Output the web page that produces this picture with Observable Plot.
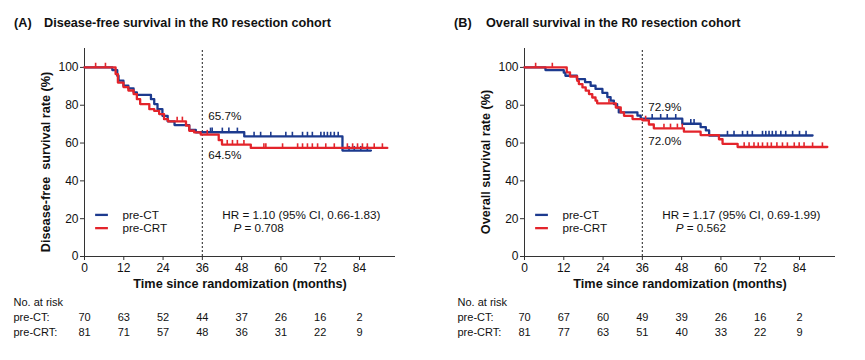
<!DOCTYPE html>
<html><head><meta charset="utf-8">
<script src="https://cdn.jsdelivr.net/npm/d3@7"></script>
<script src="https://cdn.jsdelivr.net/npm/@observablehq/plot@0.6"></script>
<style>
body{margin:0;background:#fff;font-family:"Liberation Sans",Arial,sans-serif;}
#wrap{position:relative;width:865px;height:360px;overflow:hidden;}
.panel{position:absolute;top:0;height:360px;}
.title{position:absolute;top:17px;line-height:1;font-weight:bold;font-size:12.7px;color:#111;white-space:nowrap;}
.plotbox{position:absolute;top:40px;left:0;}
</style></head><body><div id="wrap"></div>
<script>
// ---------- data ----------
const xTicks = [0, 12, 24, 36, 48, 60, 72, 84];
const yTicks = [0, 20, 40, 60, 80, 100];
const groups = ["pre-CT", "pre-CRT"];
const colors = ["#1c3a8e", "#e3242b"];

// Panel A: disease-free survival
const dfsCT_time = [0, 8.5, 10.0, 10.4, 11.9, 13.4, 15.0, 16.0, 20.3, 21.3, 22.3, 23.8, 25.4, 27.5, 32.0, 34.0, 48.8, 78.8, 87.5];
const dfsCT_surv = [100, 98.6, 95.6, 93.0, 90.3, 88.9, 86.8, 85.5, 83.2, 80.6, 77.9, 74.4, 71.5, 69.5, 67.0, 65.7, 63.5, 56.0, 56.0];
const dfsCT_censor = [38.5, 39.0, 42.1, 44.1, 46.7, 51.8, 53.8, 56.9, 61.5, 63.5, 66.6, 68.1, 69.6, 72.2, 73.2, 74.2, 75.2, 76.3, 77.5, 80.8, 82.4, 84.4, 86.4];
const dfsCRT_time = [0, 9.5, 10.2, 11.9, 13.4, 15.0, 16.0, 17.0, 19.8, 21.3, 22.8, 24.3, 25.5, 31.0, 32.0, 33.5, 35.5, 41.0, 42.0, 50.8, 92.5];
const dfsCRT_surv = [100, 96.5, 92.0, 89.6, 87.8, 85.9, 83.2, 80.6, 77.9, 77.0, 75.3, 72.6, 71.5, 69.2, 66.5, 65.6, 64.5, 61.5, 59.2, 57.4, 57.4];
const dfsCRT_censor = [3.4, 6.4, 28.3, 29.9, 37.5, 43.6, 45.2, 46.7, 48.7, 54.8, 55.4, 60.5, 65.1, 66.6, 68.1, 69.6, 71.2, 73.7, 76.3, 80.3, 81.9, 83.4, 84.9, 86.4, 88.5, 91.0];
const riskA_CT = [70, 63, 52, 44, 37, 26, 16, 2];
const riskA_CRT = [81, 71, 57, 48, 36, 31, 22, 9];
const landmarkA = ["65.7%", "64.5%"];

// Panel B: overall survival
const osCT_time = [0, 6.4, 12.0, 12.5, 16.0, 18.5, 20.2, 21.7, 23.8, 25.3, 26.3, 27.3, 28.3, 28.8, 34.5, 35.5, 48.2, 53.8, 55.4, 56.4, 88.0];
const osCT_surv = [100, 98.6, 97.2, 95.6, 93.8, 92.2, 90.3, 88.6, 86.5, 84.3, 82.4, 80.6, 78.8, 76.2, 74.5, 72.9, 70.2, 68.4, 66.7, 64.0, 64.0];
const osCT_censor = [39.0, 41.6, 43.6, 46.2, 50.8, 51.8, 62.0, 64.0, 66.6, 68.1, 69.6, 72.7, 73.7, 74.7, 75.7, 76.8, 78.3, 79.8, 81.9, 84.0, 86.0];
const osCRT_time = [0, 12.9, 13.9, 16.1, 16.6, 17.7, 18.7, 19.7, 20.7, 21.7, 22.2, 27.9, 29.4, 30.4, 33.0, 36.0, 38.0, 39.5, 48.7, 53.8, 59.4, 60.5, 65.1, 92.5];
const osCRT_surv = [100, 97.4, 95.2, 92.9, 91.2, 89.4, 87.7, 85.9, 84.1, 82.4, 81.0, 78.8, 76.2, 74.4, 72.7, 72.0, 69.8, 67.8, 66.0, 64.2, 62.0, 59.6, 57.9, 57.9];
const osCRT_censor = [3.4, 8.5, 25.8, 37.0, 42.6, 44.6, 46.7, 48.2, 67.1, 68.6, 70.1, 71.4, 72.7, 74.2, 75.4, 77.1, 78.8, 80.3, 82.4, 83.9, 85.4, 88.0, 91.0];
const riskB_CT = [70, 67, 60, 49, 39, 26, 16, 2];
const riskB_CRT = [81, 77, 63, 51, 40, 33, 22, 9];
const landmarkB = ["72.9%", "72.0%"];

// ---------- helpers ----------
function curve(times, surv, g) { return times.map((t, i) => ({t, s: surv[i], g})); }
function survAt(times, surv, c) {
  let k = 0;
  for (let i = 0; i < times.length; i++) if (times[i] <= c) k = i;
  return surv[k];
}
function censorPts(times, surv, cens, g) {
  return cens.map(c => ({t: c, s: survAt(times, surv, c), g}));
}

function makePanel(cfg) {
  const panel = document.createElement("div");
  panel.className = "panel";
  panel.style.left = cfg.left + "px";
  panel.style.width = cfg.width + "px";
  const t1 = document.createElement("div");
  t1.className = "title"; t1.style.left = "14px"; t1.textContent = cfg.tag;
  const t2 = document.createElement("div");
  t2.className = "title"; t2.style.left = cfg.titleX + "px"; t2.textContent = cfg.title;
  panel.appendChild(t1); panel.appendChild(t2);

  const lines = [curve(cfg.ct[0], cfg.ct[1], 0), curve(cfg.crt[0], cfg.crt[1], 1)];
  const cens = [censorPts(cfg.ct[0], cfg.ct[1], cfg.ct[2], 0), censorPts(cfg.crt[0], cfg.crt[1], cfg.crt[2], 1)];
  const font = "Liberation Sans, Arial, sans-serif";
  const marks = [];
  // axes lines
  marks.push(Plot.ruleX([0], {y1: 0, y2: 110, stroke: "#333", strokeWidth: 1}));
  marks.push(Plot.ruleY([0], {x1: 0, x2: 95, stroke: "#333", strokeWidth: 1}));
  marks.push(Plot.axisY({ticks: yTicks, tickSize: 4, tickPadding: 2, label: null, fontSize: 12, stroke: "#333"}));
  marks.push(Plot.axisX({ticks: xTicks, tickSize: 4, tickPadding: 3, label: null, fontSize: 12, stroke: "#333"}));
  // landmark
  marks.push(Plot.ruleX([36], {y1: 0, y2: 110, stroke: "#444", strokeWidth: 1.2, strokeDasharray: "2,2"}));
  // curves
  lines.forEach((d, i) => {
    marks.push(Plot.line(d, {x: "t", y: "s", curve: "step-after", stroke: colors[i], strokeWidth: 2.3}));
    marks.push(Plot.ruleX(cens[i], {x: "t", y1: "s", y2: d => d.s + 2.2, stroke: colors[i], strokeWidth: 1.6}));
  });
  // landmark labels
  const sCT = survAt(cfg.ct[0], cfg.ct[1], 36), sCRT = survAt(cfg.crt[0], cfg.crt[1], 36);
  marks.push(Plot.text([cfg.landmark[0]], {x: () => 36, y: () => sCT, dx: 6, dy: cfg.lmDy[0], textAnchor: "start", fontSize: 11.7, fill: "#111"}));
  marks.push(Plot.text([cfg.landmark[1]], {x: () => 36, y: () => sCRT, dx: 6, dy: cfg.lmDy[1], textAnchor: "start", fontSize: 11.7, fill: "#111"}));
  // legend
  const legY = [22, 15];
  groups.forEach((g, i) => {
    marks.push(Plot.ruleY([legY[i]], {x1: 3.4, x2: 7.3, stroke: colors[i], strokeWidth: 2.3}));
    marks.push(Plot.text([g], {x: () => 11.6, y: () => legY[i], textAnchor: "start", fontSize: 11.7, fill: "#111"}));
  });
  marks.push(Plot.text([cfg.hr], {x: () => 42.1, y: () => legY[0], textAnchor: "start", fontSize: 11.7, fill: "#111"}));
  marks.push(Plot.text(["P"], {x: () => cfg.pX, y: () => legY[1], textAnchor: "start", fontSize: 11.7, fontStyle: "italic", fill: "#111"}));
  marks.push(Plot.text([" = " + cfg.p], {x: () => cfg.pX, y: () => legY[1], dx: 7.8, textAnchor: "start", fontSize: 11.7, fill: "#111"}));
  // axis titles
  marks.push(Plot.text(["Time since randomization (months)"], {frameAnchor: "bottom", dy: 31.5, fontWeight: "bold", fontSize: 12.7, fill: "#111"}));
  marks.push(Plot.text([cfg.ylabel], {x: () => 0, y: () => 50, dx: -39, rotate: -90, fontWeight: "bold", fontSize: 12.7, fill: "#111"}));
  // risk table
  marks.push(Plot.text(["No. at risk"], {frameAnchor: "bottom-left", dx: cfg.riskDx, dy: 49, textAnchor: "start", fontSize: 11, fill: "#111"}));
  marks.push(Plot.text(["pre-CT:"], {frameAnchor: "bottom-left", dx: cfg.riskDx, dy: 64.5, textAnchor: "start", fontSize: 11, fill: "#111"}));
  marks.push(Plot.text(["pre-CRT:"], {frameAnchor: "bottom-left", dx: cfg.riskDx, dy: 79, textAnchor: "start", fontSize: 11, fill: "#111"}));
  marks.push(Plot.text(cfg.risk[0], {x: (d, i) => xTicks[i], frameAnchor: "bottom", dy: 64.5, text: d => String(d), fontSize: 11, fill: "#111"}));
  marks.push(Plot.text(cfg.risk[1], {x: (d, i) => xTicks[i], frameAnchor: "bottom", dy: 79, text: d => String(d), fontSize: 11, fill: "#111"}));

  const svg = Plot.plot({
    width: cfg.width, height: 305,
    marginLeft: 84, marginRight: cfg.width - 395, marginTop: 8, marginBottom: 89,
    style: {fontFamily: font, fontSize: "12px", color: "#111", background: "transparent", overflow: "visible"},
    x: {domain: [0, 95]},
    y: {domain: [0, 110]},
    marks
  });
  const box = document.createElement("div");
  box.className = "plotbox";
  box.appendChild(svg);
  panel.appendChild(box);
  document.getElementById("wrap").appendChild(panel);
}

makePanel({
  left: 0, width: 440, tag: "(A)", titleX: 44,
  title: "Disease-free survival in the R0 resection cohort",
  ylabel: "Disease-free  survival rate (%)",
  ct: [dfsCT_time, dfsCT_surv, dfsCT_censor],
  crt: [dfsCRT_time, dfsCRT_surv, dfsCRT_censor],
  risk: [riskA_CT, riskA_CRT],
  landmark: landmarkA, lmDy: [-16, 21],
  hr: "HR = 1.10 (95% CI, 0.66-1.83)", p: "0.708", pX: 45.5,
  riskDx: -71
});
makePanel({
  left: 440, width: 425, tag: "(B)", titleX: 46,
  title: "Overall survival in the R0 resection cohort",
  ylabel: "Overall survival rate (%)",
  ct: [osCT_time, osCT_surv, osCT_censor],
  crt: [osCRT_time, osCRT_surv, osCRT_censor],
  risk: [riskB_CT, riskB_CRT],
  landmark: landmarkB, lmDy: [-11.5, 21],
  hr: "HR = 1.17 (95% CI, 0.69-1.99)", p: "0.562", pX: 46.2,
  riskDx: -67
});
</script></body></html>
